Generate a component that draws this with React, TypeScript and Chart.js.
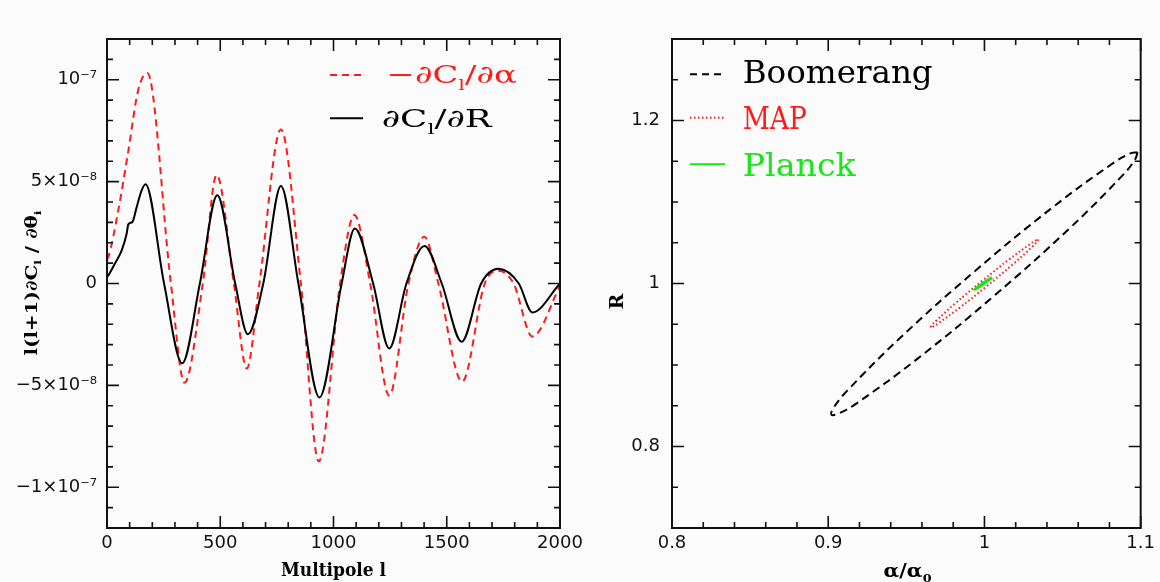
import React, { useEffect, useRef } from "react";
import { Chart, registerables } from "chart.js";
Chart.register(...registerables);

// ---------- data (left panel, values in units of 1e-8) ----------
const L_DR = [0, 6, 35, 65, 87, 94, 112, 131, 153, 170, 252, 332, 410, 487, 566, 622, 690, 768, 845, 938, 1036, 1094, 1175, 1246, 1322, 1402, 1478, 1566, 1652, 1728, 1818, 1878, 2000];
const DCL_DR = [0.32, 0.4, 0.98, 1.63, 2.45, 2.9, 3.02, 3.75, 4.57, 4.87, 0, -3.92, 0, 4.33, 0, -2.49, 0, 4.78, 0, -5.59, 0, 2.7, 0, -3.19, 0, 1.84, 0, -2.86, 0, 0.72, 0, -1.42, 0];
const L_DA = [0, 6, 50, 94, 138, 178, 282, 342, 423, 484, 560, 617, 673, 768, 856, 935, 1029, 1092, 1162, 1246, 1331, 1401, 1463, 1568, 1668, 1730, 1795, 1878, 2000];
const DCL_DA = [1.2, 1.3, 3.6, 6.5, 9.5, 10.33, 0, -4.87, 0, 5.33, 0, -4.17, 0, 7.56, 0, -8.73, 0, 3.36, 0, -5.5, 0, 2.3, 0, -4.82, 0, 0.62, 0, -2.6, -0.12];

const LX_TICKS = [0, 500, 1000, 1500, 2000];
const LX_LABELS = ["0", "500", "1000", "1500", "2000"];
const LY_TICKS = [-10, -5, 0, 5, 10];
const LY_LABELS = ["\u22121\u00d710\u207b\u2077", "\u22125\u00d710\u207b\u2078", "0", "5\u00d710\u207b\u2078", "10\u207b\u2077"];

// ---------- data (right panel) ----------
const BOOM_X = [1.098, 1.0963, 1.0881, 1.0546, 1.0065, 0.9566, 0.9184, 0.907, 0.902, 0.9037, 0.9119, 0.9454, 0.9935, 1.0434, 1.0816, 1.093, 1.098];
const BOOM_Y = [1.161, 1.1517, 1.1321, 1.0679, 0.9854, 0.9069, 0.8533, 0.8407, 0.839, 0.8483, 0.8679, 0.9321, 1.0146, 1.0931, 1.1467, 1.1593, 1.161];
const MAP_X = [1.0345, 1.0337, 1.0306, 1.0185, 1.0014, 0.984, 0.9708, 0.967, 0.9655, 0.9663, 0.9694, 0.9815, 0.9986, 1.016, 1.0292, 1.033, 1.0345];
const MAP_Y = [1.054, 1.0513, 1.0451, 1.0241, 0.99665, 0.9701, 0.9516, 0.947, 0.946, 0.9487, 0.9549, 0.9759, 1.00335, 1.0299, 1.0484, 1.053, 1.054];
const PLANCK_X = [1.0048, 0.9995, 0.9938, 0.9991, 1.0048];
const PLANCK_Y = [1.0074, 0.9997, 0.9926, 1.0003, 1.0074];

const RX_TICKS = [0.8, 0.9, 1, 1.1];
const RX_LABELS = ["0.8", "0.9", "1", "1.1"];
const RY_TICKS = [0.8, 1, 1.2];
const RY_LABELS = ["0.8", "1", "1.2"];

const BG = "#fbfbfb";
const RED = "#ff1a1a";
const GREEN = "#19e619";
const SERIF = "'DejaVu Serif', serif";
const SANS = "'DejaVu Sans', sans-serif";

type Part = { t: string; sub?: boolean };
function drawRich(ctx: CanvasRenderingContext2D, parts: Part[], x: number, y: number, o: { size: number; family: string; weight?: string; color: string; width?: number; align?: "left" | "center" }) {
  const subSize = o.size * 0.62;
  const fontFor = (p: Part) => `${o.weight || "normal"} ${p.sub ? subSize : o.size}px ${o.family}`;
  ctx.save();
  let nat = 0;
  const ws = parts.map((p) => {
    ctx.font = fontFor(p);
    const w = ctx.measureText(p.t).width;
    nat += w;
    return w;
  });
  const sx = o.width ? o.width / nat : 1;
  const total = nat * sx;
  const start = o.align === "center" ? x - total / 2 : x;
  ctx.translate(start, y);
  ctx.scale(sx, 1);
  ctx.fillStyle = o.color;
  ctx.textBaseline = "alphabetic";
  ctx.textAlign = "left";
  let cx = 0;
  parts.forEach((p, i) => {
    ctx.font = fontFor(p);
    ctx.fillText(p.t, cx, p.sub ? o.size * 0.28 : 0);
    cx += ws[i];
  });
  ctx.restore();
}

function seg(ctx: CanvasRenderingContext2D, x1: number, y1: number, x2: number, y2: number, color: string, w: number, dash: number[]) {
  ctx.save();
  ctx.strokeStyle = color;
  ctx.lineWidth = w;
  ctx.setLineDash(dash);
  ctx.beginPath();
  ctx.moveTo(x1, y1);
  ctx.lineTo(x2, y2);
  ctx.stroke();
  ctx.restore();
}

function makeDecor(cfg: { xMajor: number[]; yMajor: number[]; xMinor: number; yMinor: number; extra: (ctx: CanvasRenderingContext2D, chart: any) => void }) {
  return {
    id: "decor",
    afterDraw(chart: any) {
      const ctx: CanvasRenderingContext2D = chart.ctx;
      const { left, right, top, bottom } = chart.chartArea;
      const xs = chart.scales.x;
      const ys = chart.scales.y;
      ctx.save();
      ctx.strokeStyle = "#111";
      ctx.lineWidth = 1.6;
      const near = (v: number, arr: number[]) => arr.some((a) => Math.abs(a - v) < 1e-6);
      for (let k = 0; ; k++) {
        const v = xs.min + k * cfg.xMinor;
        if (v > xs.max + 1e-9) break;
        const px = xs.getPixelForValue(v);
        const len = near(v, cfg.xMajor) ? 12 : 6;
        ctx.beginPath();
        ctx.moveTo(px, bottom);
        ctx.lineTo(px, bottom - len);
        ctx.moveTo(px, top);
        ctx.lineTo(px, top + len);
        ctx.stroke();
      }
      for (let k = 0; ; k++) {
        const v = ys.min + k * cfg.yMinor;
        if (v > ys.max + 1e-9) break;
        const py = ys.getPixelForValue(v);
        const len = near(v, cfg.yMajor) ? 12 : 6;
        ctx.beginPath();
        ctx.moveTo(left, py);
        ctx.lineTo(left + len, py);
        ctx.moveTo(right, py);
        ctx.lineTo(right - len, py);
        ctx.stroke();
      }
      ctx.lineWidth = 2;
      ctx.strokeRect(left, top, right - left, bottom - top);
      ctx.restore();
      cfg.extra(ctx, chart);
    },
  };
}

const tickFont = { family: SANS, size: 18 };

export default function App() {
  const leftRef = useRef<HTMLCanvasElement>(null);
  const rightRef = useRef<HTMLCanvasElement>(null);

  useEffect(() => {
    document.body.style.margin = "0";
    document.body.style.background = BG;

    const leftDecor = makeDecor({
      xMajor: LX_TICKS,
      yMajor: LY_TICKS,
      xMinor: 100,
      yMinor: 1,
      extra: (ctx) => {
        seg(ctx, 330, 75, 363, 75, RED, 2, [7, 5]);
        drawRich(ctx, [{ t: "\u2212\u2202C" }, { t: "l", sub: true }, { t: "/\u2202\u03b1" }], 386.7, 83.3, { size: 25, family: SERIF, color: RED, width: 130 });
        seg(ctx, 330, 118.3, 363, 118.3, "#000", 2, []);
        drawRich(ctx, [{ t: "\u2202C" }, { t: "l", sub: true }, { t: "/\u2202R" }], 381.7, 126.7, { size: 25, family: SERIF, color: "#000", width: 110 });
        drawRich(ctx, [{ t: "Multipole l" }], 333.5, 576, { size: 18, family: SERIF, weight: "bold", color: "#000", width: 105, align: "center" });
        ctx.save();
        ctx.translate(37, 283);
        ctx.rotate(-Math.PI / 2);
        drawRich(ctx, [{ t: "l(l+1)\u2202C" }, { t: "l", sub: true }, { t: " / \u2202\u03b8" }, { t: "i", sub: true }], 0, 0, { size: 16, family: SERIF, weight: "bold", color: "#000", width: 145, align: "center" });
        ctx.restore();
      },
    });

    const rightDecor = makeDecor({
      xMajor: RX_TICKS,
      yMajor: RY_TICKS,
      xMinor: 0.02,
      yMinor: 0.05,
      extra: (ctx) => {
        seg(ctx, 90, 74.3, 125, 74.3, "#000", 2, [7, 5]);
        drawRich(ctx, [{ t: "Boomerang" }], 142.7, 83.3, { size: 32, family: SERIF, color: "#000", width: 190 });
        seg(ctx, 90, 117.7, 125, 117.7, RED, 2, [1.5, 2.5]);
        drawRich(ctx, [{ t: "MAP" }], 142.7, 129, { size: 32, family: SERIF, color: RED, width: 64 });
        seg(ctx, 90, 164.3, 125, 164.3, GREEN, 2, []);
        drawRich(ctx, [{ t: "Planck" }], 142.7, 176, { size: 32, family: SERIF, color: GREEN, width: 113 });
        drawRich(ctx, [{ t: "\u03b1/\u03b1" }, { t: "0", sub: true }], 307.5, 576.7, { size: 19, family: SERIF, weight: "bold", color: "#000", width: 48, align: "center" });
        ctx.save();
        ctx.translate(22.7, 301.7);
        ctx.rotate(-Math.PI / 2);
        drawRich(ctx, [{ t: "R" }], 0, 0, { size: 19, family: SERIF, weight: "bold", color: "#000", align: "center" });
        ctx.restore();
      },
    });

    const axisCommon = (ticks: number[], labels: string[], fit: (s: any) => void, pad: number) => ({
      type: "linear" as const,
      grid: { display: false, drawTicks: false },
      border: { display: false },
      ticks: {
        font: tickFont,
        color: "#111",
        padding: pad,
        autoSkip: false,
        maxRotation: 0,
        callback: (_v: any, i: number) => labels[i],
      },
      afterBuildTicks: (s: any) => {
        s.ticks = ticks.map((v) => ({ value: v }));
      },
      afterFit: fit,
    });

    const c1 = new Chart(leftRef.current!, {
      type: "scatter",
      data: {
        datasets: [
          {
            label: "dCl/dR",
            data: L_DR.map((l, i) => ({ x: l, y: DCL_DR[i] })),
            showLine: true,
            borderColor: "#000",
            borderWidth: 2,
            pointRadius: 0,
            cubicInterpolationMode: "monotone",
          },
          {
            label: "-dCl/dalpha",
            data: L_DA.map((l, i) => ({ x: l, y: DCL_DA[i] })),
            showLine: true,
            borderColor: RED,
            borderWidth: 2,
            borderDash: [7, 5],
            pointRadius: 0,
            cubicInterpolationMode: "monotone",
          },
        ],
      },
      options: {
        animation: false,
        responsive: false,
        layout: { padding: { left: 0, top: 39, right: 40, bottom: 0 } },
        plugins: { legend: { display: false }, tooltip: { enabled: false } },
        scales: {
          x: { ...axisCommon(LX_TICKS, LX_LABELS, (s) => { s.height = 54; }, 5), min: 0, max: 2000 },
          y: { ...axisCommon(LY_TICKS, LY_LABELS, (s) => { s.width = 107; }, 10), min: -12, max: 12 },
        },
      } as any,
      plugins: [leftDecor],
    });

    const ell = (xs: number[], ys: number[]) => xs.map((x, i) => ({ x, y: ys[i] }));
    const c2 = new Chart(rightRef.current!, {
      type: "scatter",
      data: {
        datasets: [
          { label: "Planck", data: ell(PLANCK_X, PLANCK_Y), showLine: true, borderColor: GREEN, borderWidth: 3, pointRadius: 0, tension: 0.4 },
          { label: "MAP", data: ell(MAP_X, MAP_Y), showLine: true, borderColor: RED, borderWidth: 2, borderDash: [1.5, 2.5], pointRadius: 0, tension: 0.4 },
          { label: "Boomerang", data: ell(BOOM_X, BOOM_Y), showLine: true, borderColor: "#000", borderWidth: 2, borderDash: [8, 5], pointRadius: 0, tension: 0.4 },
        ],
      },
      options: {
        animation: false,
        responsive: false,
        layout: { padding: { left: 0, top: 39, right: 17, bottom: 0 } },
        plugins: { legend: { display: false }, tooltip: { enabled: false } },
        scales: {
          x: { ...axisCommon(RX_TICKS, RX_LABELS, (s) => { s.height = 54; }, 5), min: 0.8, max: 1.1 },
          y: { ...axisCommon(RY_TICKS, RY_LABELS, (s) => { s.width = 72; }, 12), min: 0.7, max: 1.3 },
        },
      } as any,
      plugins: [rightDecor],
    });

    return () => {
      c1.destroy();
      c2.destroy();
    };
  }, []);

  return (
    <div style={{ position: "relative", width: 1160, height: 582, background: BG, overflow: "hidden" }}>
      <canvas ref={leftRef} width={600} height={582} style={{ position: "absolute", left: 0, top: 0, width: 600, height: 582 }} />
      <canvas ref={rightRef} width={560} height={582} style={{ position: "absolute", left: 600, top: 0, width: 560, height: 582 }} />
    </div>
  );
}
